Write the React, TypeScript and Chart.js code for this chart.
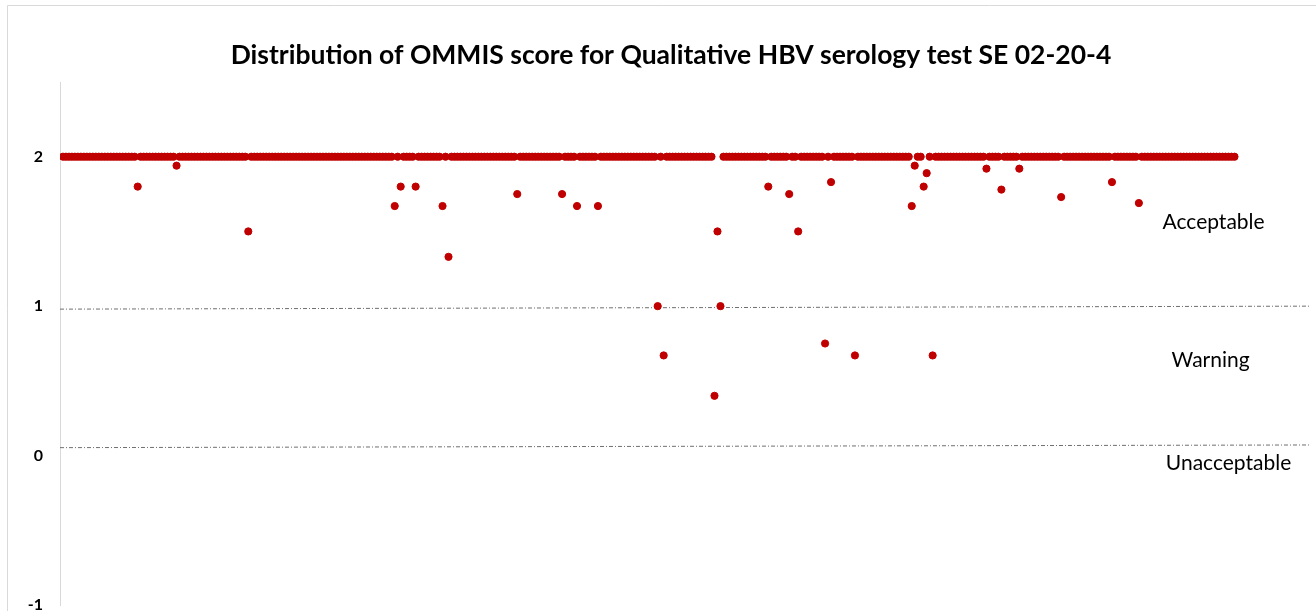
import React, { useEffect, useRef } from "react";
import { Chart, registerables } from "chart.js";

Chart.register(...registerables);

const TITLE = "Distribution of OMMIS score for Qualitative HBV serology test SE 02-20-4";
const LAB_COUNT = 393;
const BASE_SCORE = 2;
const OUTLIER_LABS = [26, 39, 63, 112, 114, 119, 128, 130, 153, 168, 173, 180, 200, 202, 219, 220, 221, 237, 244, 247, 256, 258, 266, 285, 286, 289, 290, 292, 310, 315, 321, 335, 352, 361];
const OUTLIER_SCORES = [1.8, 1.94, 1.5, 1.67, 1.8, 1.8, 1.67, 1.33, 1.75, 1.75, 1.67, 1.67, 1.0, 0.67, 0.4, 1.5, 1.0, 1.8, 1.75, 1.5, 0.75, 1.83, 0.67, 1.67, 1.94, 1.8, 1.89, 0.67, 1.92, 1.78, 1.92, 1.73, 1.83, 1.69];
const Y_TICKS = [-1, 0, 1, 2];
const Y_MIN = -1;
const Y_MAX = 2.5;
const X_MIN = 0.0;
const X_MAX = 418.6;
const WARNING_LINE_Y = [0.98, 1.0];
const UNACCEPTABLE_LINE_Y = [0.053, 0.071];
const ZONE_LABELS = ["Acceptable", "Warning", "Unacceptable"];
const ZONE_LABEL_X = [386, 385, 391];
const ZONE_LABEL_Y = [1.56, 0.64, -0.05];

const RED = "#C00000";

export default function App() {
  const canvasRef = useRef<HTMLCanvasElement | null>(null);

  useEffect(() => {
    document.body.style.margin = "0";
    const canvas = canvasRef.current;
    if (!canvas) return;

    const scoreData = [] as { x: number; y: number }[];
    for (let i = 1; i <= LAB_COUNT; i++) {
      const k = OUTLIER_LABS.indexOf(i);
      scoreData.push({ x: i, y: k >= 0 ? OUTLIER_SCORES[k] : BASE_SCORE });
    }

    const framePlugin = {
      id: "frame",
      beforeDraw(chart: any) {
        const ctx = chart.ctx;
        ctx.save();
        ctx.fillStyle = "#ffffff";
        ctx.fillRect(0, 0, chart.width, chart.height);
        ctx.strokeStyle = "#d9d9d9";
        ctx.lineWidth = 1;
        ctx.beginPath();
        ctx.moveTo(7.5, chart.height + 5);
        ctx.lineTo(7.5, 5.5);
        ctx.lineTo(chart.width + 5, 5.5);
        ctx.stroke();
        ctx.fillStyle = "#000000";
        ctx.font = "bold 26.5px Lato, 'Open Sans', sans-serif";
        ctx.textAlign = "center";
        ctx.textBaseline = "middle";
        ctx.fillText(TITLE, 671, 55);
        ctx.restore();
      },
      afterDatasetsDraw(chart: any) {
        const ctx = chart.ctx;
        const xs = chart.scales.x;
        const ys = chart.scales.y;
        ctx.save();
        ctx.fillStyle = "#000000";
        ctx.font = "21px Lato, 'Open Sans', sans-serif";
        ctx.textAlign = "center";
        ctx.textBaseline = "middle";
        ZONE_LABELS.forEach((t, i) => {
          ctx.fillText(t, xs.getPixelForValue(ZONE_LABEL_X[i]), ys.getPixelForValue(ZONE_LABEL_Y[i]));
        });
        ctx.restore();
      },
    };

    const chart = new Chart(canvas, {
      type: "scatter",
      data: {
        datasets: [
          {
            label: "Score",
            data: scoreData,
            backgroundColor: RED,
            borderColor: RED,
            borderWidth: 1,
            pointRadius: 3.6,
            order: 0,
          },
          {
            type: "line",
            label: "Warning limit",
            data: [
              { x: X_MIN, y: WARNING_LINE_Y[0] },
              { x: X_MAX, y: WARNING_LINE_Y[1] },
            ],
            borderColor: "#6f6f6f",
            borderWidth: 1,
            borderDash: [4, 2, 1, 2],
            pointRadius: 0,
            fill: false,
            order: 1,
          } as any,
          {
            type: "line",
            label: "Unacceptable limit",
            data: [
              { x: X_MIN, y: UNACCEPTABLE_LINE_Y[0] },
              { x: X_MAX, y: UNACCEPTABLE_LINE_Y[1] },
            ],
            borderColor: "#6f6f6f",
            borderWidth: 1,
            borderDash: [4, 2, 1, 2],
            pointRadius: 0,
            fill: false,
            order: 1,
          } as any,
        ],
      },
      options: {
        responsive: false,
        animation: false,
        layout: { padding: { left: 0, right: 0, top: 82, bottom: 6 } },
        plugins: {
          legend: { display: false },
          tooltip: { enabled: false },
          title: { display: false },
        },
        scales: {
          x: {
            type: "linear",
            display: false,
            min: X_MIN,
            max: X_MAX,
          },
          y: {
            type: "linear",
            min: Y_MIN,
            max: Y_MAX,
            afterBuildTicks: (scale: any) => {
              scale.ticks = Y_TICKS.map((v) => ({ value: v }));
            },
            afterFit: (scale: any) => {
              scale.width = 60;
              scale.paddingTop = 0;
              scale.paddingBottom = 0;
            },
            grid: { display: false, drawTicks: false },
            border: { display: true, color: "#d9d9d9", width: 1 },
            ticks: {
              padding: 17,
              color: "#000000",
              font: { family: "Lato, 'Open Sans', sans-serif", size: 16, weight: "bold" },
            },
          },
        },
      },
      plugins: [framePlugin],
    });

    return () => chart.destroy();
  }, []);

  return (
    <div style={{ width: 1316, height: 611 }}>
      <canvas ref={canvasRef} width={1316} height={611} style={{ display: "block" }} />
    </div>
  );
}
